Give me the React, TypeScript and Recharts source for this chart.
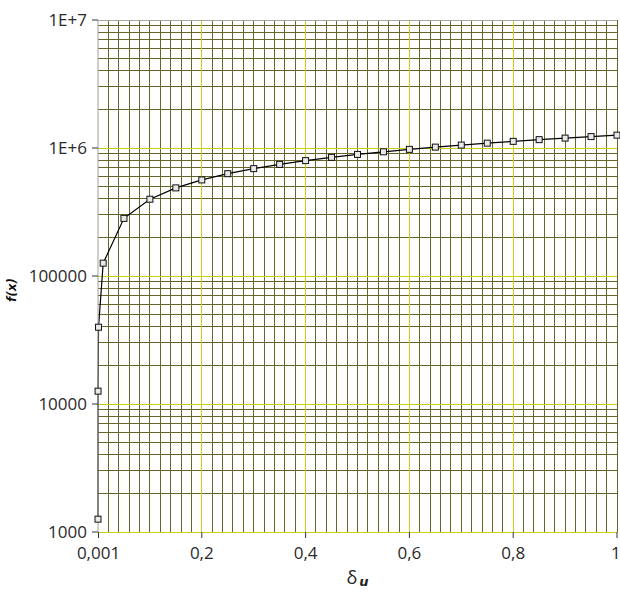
import React from "react";
import { ComposedChart, Line, XAxis, YAxis, ReferenceLine } from "recharts";

// ─── Data ─────────────────────────────────────────────────────────────────────

const X_VALUES = [
  0.000001, 0.0001, 0.001, 0.01, 0.05, 0.1, 0.15, 0.2, 0.25, 0.3, 0.35, 0.4,
  0.45, 0.5, 0.55, 0.6, 0.65, 0.7, 0.75, 0.8, 0.85, 0.9, 0.95, 1,
];

const F_VALUES = [
  1260, 12600, 39800, 126000, 282000, 398000, 488000, 563000, 630000, 690000,
  745000, 797000, 845000, 891000, 934000, 976000, 1016000, 1054000, 1091000,
  1127000, 1162000, 1195000, 1228000, 1260000,
];

const X_TICKS = [0.001, 0.2, 0.4, 0.6, 0.8, 1];
const Y_TICKS = [1000, 10000, 100000, 1000000, 10000000];

// ─── Grid config ──────────────────────────────────────────────────────────────

const MAJOR = "#cccc10";
const MINOR = "#66662a";
const FONT = "'Open Sans', 'Noto Sans', sans-serif";

const minorY: number[] = [];
for (let d = 1000; d < 10000000; d *= 10) {
  for (let k = 2; k <= 9; k++) minorY.push(k * d);
}
const majorY = [1000, 10000, 100000, 1000000];

const minorX: number[] = [];
for (let i = 1; i <= 50; i++) {
  if (i % 10 !== 0) minorX.push(i / 50);
}
minorX.push(1);
const majorX = [0.2, 0.4, 0.6, 0.8];

const data = X_VALUES.map((x, i) => ({ x, f: F_VALUES[i] }));

// ─── Helpers ──────────────────────────────────────────────────────────────────

function formatX(v: number) {
  return String(v).replace(".", ",");
}

function formatY(v: number) {
  if (v >= 1000000) return "1E+" + Math.round(Math.log10(v));
  return String(v);
}

function SquareDot(props: any) {
  const { cx, cy } = props;
  if (cx == null || cy == null) return null;
  return (
    <rect
      x={cx - 3}
      y={cy - 3}
      width={6}
      height={6}
      fill="#e8e8e8"
      stroke="#111"
      strokeWidth={1}
    />
  );
}

// ─── Component ────────────────────────────────────────────────────────────────

export default function App() {
  return (
    <div style={{ position: "absolute", left: 0, top: 0, background: "#fff" }}>
      <ComposedChart
        width={620}
        height={592}
        data={data}
        margin={{ top: 20, right: 3, left: 0, bottom: 0 }}
      >
        {/* Minor grid */}
        {minorY.map((v) => (
          <ReferenceLine
            key={"my" + v}
            y={v}
            stroke={MINOR}
            shapeRendering="crispEdges"
          />
        ))}
        {minorX.map((v) => (
          <ReferenceLine
            key={"mx" + v}
            x={v}
            stroke={MINOR}
            shapeRendering="crispEdges"
          />
        ))}
        {/* Major grid */}
        {majorY.map((v) => (
          <ReferenceLine
            key={"My" + v}
            y={v}
            stroke={MAJOR}
            shapeRendering="crispEdges"
          />
        ))}
        {majorX.map((v) => (
          <ReferenceLine
            key={"Mx" + v}
            x={v}
            stroke={MAJOR}
            shapeRendering="crispEdges"
          />
        ))}
        <ReferenceLine
          y={10000000}
          stroke="#a8a8a8"
          shapeRendering="crispEdges"
        />
        <XAxis
          dataKey="x"
          type="number"
          domain={[0, 1]}
          ticks={X_TICKS}
          tickFormatter={formatX}
          height={60}
          tickSize={6}
          tickMargin={9}
          axisLine={false}
          tickLine={{ stroke: "#333" }}
          tick={{ fill: "#2a2a2a", fontSize: 17, fontFamily: FONT }}
          label={{
            content: (p: any) => {
              const vb = p.viewBox;
              const cx = vb.x + vb.width / 2;
              return (
                <text x={cx} y={vb.y + 52} textAnchor="middle" fill="#222">
                  <tspan fontFamily={FONT} fontSize={18}>δ</tspan>
                  <tspan
                    fontFamily="'DejaVu Sans', sans-serif"
                    fontSize={13}
                    fontWeight="bold"
                    fontStyle="italic"
                    dx={2}
                    dy={2}
                  >
                    u
                  </tspan>
                </text>
              );
            },
          }}
        />
        <YAxis
          type="number"
          scale="log"
          domain={[1000, 10000000]}
          ticks={Y_TICKS}
          tickFormatter={formatY}
          allowDataOverflow
          width={98}
          tickSize={6}
          tickMargin={5}
          axisLine={{ stroke: "#a0a0a0" }}
          tickLine={{ stroke: "#333" }}
          tick={{ fill: "#2a2a2a", fontSize: 17, fontFamily: FONT }}
          label={{
            content: () => (
              <text
                x={16}
                y={290}
                transform="rotate(-90 16 290)"
                textAnchor="middle"
                fontFamily="'DejaVu Sans', sans-serif"
                fontSize={12}
                fontWeight="bold"
                fontStyle="italic"
                fill="#111"
              >
                f(x)
              </text>
            ),
          }}
        />
        <Line
          dataKey="f"
          type="linear"
          stroke="#000"
          strokeWidth={1.2}
          dot={<SquareDot />}
          activeDot={false}
          isAnimationActive={false}
        />
      </ComposedChart>
    </div>
  );
}
